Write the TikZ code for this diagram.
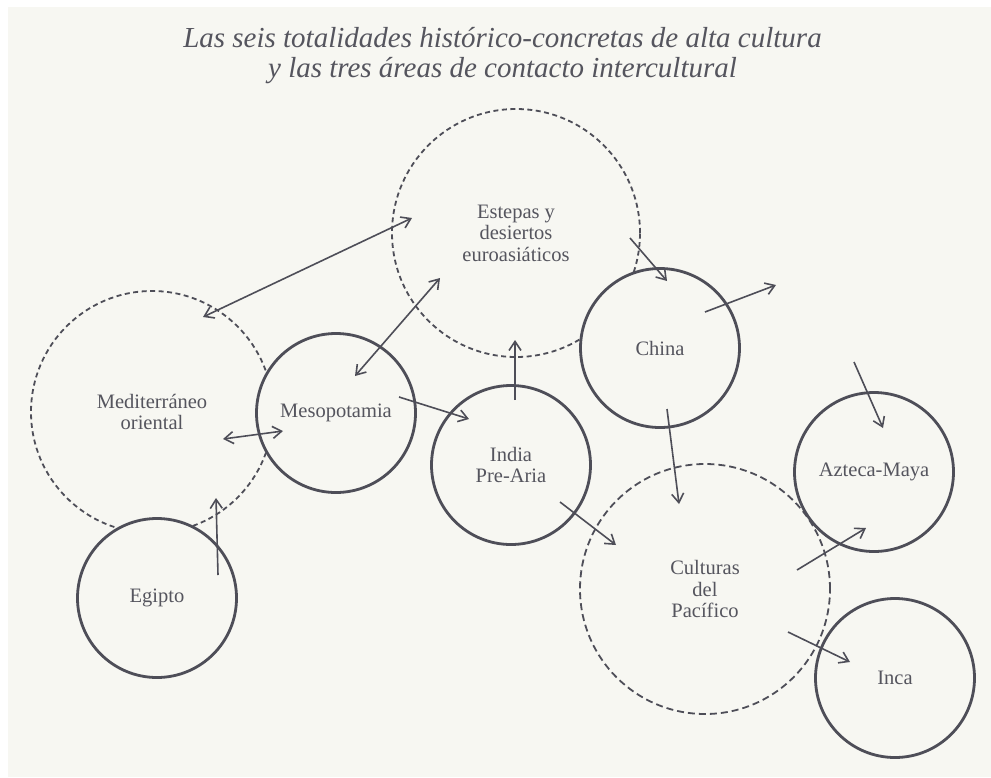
\documentclass[tikz,border=0pt]{standalone}
\usepackage{fontspec}
\setmainfont{Liberation Serif}
\usetikzlibrary{arrows.meta}
\definecolor{paper}{HTML}{F7F7F2}
\definecolor{ink}{HTML}{4E4E58}
\definecolor{txt}{HTML}{55555E}
\tikzset{
  lbl/.style={font={\fontsize{20.5}{21.5}\selectfont}, text=txt, align=center, inner sep=0pt},
  culture/.style={lbl, circle, draw=ink, line width=2.8pt, fill=paper, minimum size=159pt},
  contact/.style={lbl, circle, draw=ink, line width=1.8pt, dash pattern=on 5pt off 3.5pt, minimum size=#1},
  link/.style={draw=ink, line width=1.6pt, -{Straight Barb[length=9pt,width=12pt]}},
  dlink/.style={draw=ink, line width=1.6pt, {Straight Barb[length=9pt,width=12pt]}-{Straight Barb[length=9pt,width=12pt]}},
  ttl/.style={font={\fontsize{29}{30}\selectfont\itshape}, text=txt, inner sep=0pt, anchor=base}
}
\begin{document}
\begin{tikzpicture}[x=1pt,y=-1pt]
\useasboundingbox (0,0) rectangle (991,777);
\fill[white] (0,0) rectangle (991,777);
\fill[paper] (8,7) rectangle (991,777);

\node[ttl] (title1) at (502.5,47) {Las seis totalidades histórico-concretas de alta cultura};
\node[ttl] (title2) at (502.5,77) {y las tres áreas de contacto intercultural};

% contact areas (dashed)
\node[contact=242pt] (med) at (152,412) {Mediterráneo\\oriental};
\node[contact=248pt] (est) at (516,233) {Estepas y\\desiertos\\euroasiáticos};
\node[contact=250pt, dash pattern=on 7pt off 4pt] (pac) at (705,589) {Culturas\\del\\Pacífico};

% cultures (solid)
\node[culture] (egi) at (157,598) {Egipto};
\node[culture] (mes) at (336,413) {Mesopotamia};
\node[culture] (ind) at (511,465) {India\\Pre-Aria};
\node[culture] (chi) at (660,348) {China};
\node[culture] (azt) at (874,472) {Azteca-Maya};
\node[culture] (inc) at (895,678) {Inca};

% arrow end points
\coordinate (a1) at (203,317);  \coordinate (b1) at (412,218);
\coordinate (a2) at (355,376);  \coordinate (b2) at (440,278);
\coordinate (a3) at (223,439);  \coordinate (b3) at (283,431);
\coordinate (a4) at (218,575);  \coordinate (b4) at (216,498);
\coordinate (a5) at (399,397);  \coordinate (b5) at (469,419);
\coordinate (a6) at (515,400);  \coordinate (b6) at (515,340);
\coordinate (a7) at (630,238);  \coordinate (b7) at (667,281);
\coordinate (a8) at (705,312);  \coordinate (b8) at (776,285);
\coordinate (a9) at (667,409);  \coordinate (b9) at (679,504);
\coordinate (a10) at (560,502); \coordinate (b10) at (616,545);
\coordinate (a11) at (854,362); \coordinate (b11) at (883,428);
\coordinate (a12) at (797,570); \coordinate (b12) at (866,528);
\coordinate (a13) at (788,632); \coordinate (b13) at (850,662);

\draw[dlink] (a1) -- (b1);
\draw[dlink] (a2) -- (b2);
\draw[dlink] (a3) -- (b3);
\draw[link] (a4) -- (b4);
\draw[link] (a5) -- (b5);
\draw[link] (a6) -- (b6);
\draw[link] (a7) -- (b7);
\draw[link] (a8) -- (b8);
\draw[link] (a9) -- (b9);
\draw[link] (a10) -- (b10);
\draw[link] (a11) -- (b11);
\draw[link] (a12) -- (b12);
\draw[link] (a13) -- (b13);
\end{tikzpicture}
\end{document}
